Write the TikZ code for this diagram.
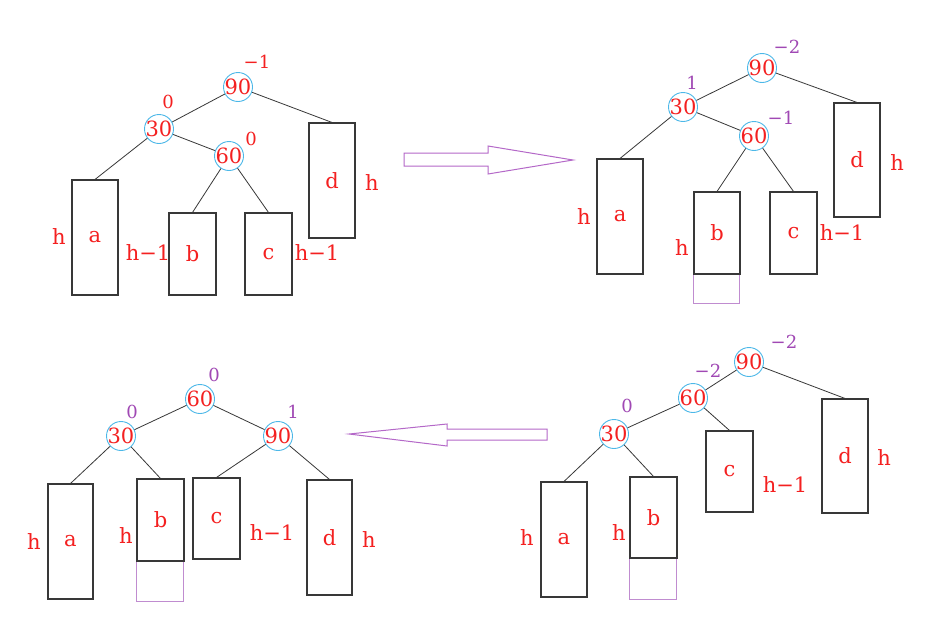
\documentclass[tikz,border=0pt]{standalone}
\usepackage{fontspec}
\setmainfont{DejaVu Serif}
\definecolor{txtred}{HTML}{F42020}
\definecolor{balpurple}{HTML}{A048B4}
\definecolor{ringblue}{HTML}{4CB8E8}
\definecolor{linegray}{HTML}{383838}
\definecolor{arrowpurple}{HTML}{B468C8}
\definecolor{extpurple}{HTML}{C08CD0}
\begin{document}
\begin{tikzpicture}[x=1pt,y=-1pt,
  key/.style={circle,draw=ringblue,line width=0.9pt,minimum size=29pt,inner sep=0pt,
    text=txtred,font=\fontsize{21}{21}\selectfont},
  subtree/.style={rectangle,draw=linegray,line width=1.1pt,inner sep=0pt,
    text=txtred,font=\fontsize{21}{21}\selectfont},
  htext/.style={text=txtred,inner sep=0pt,font=\fontsize{21}{21}\selectfont},
  balred/.style={text=txtred,inner sep=0pt,font=\fontsize{18}{18}\selectfont},
  balpur/.style={text=balpurple,inner sep=0pt,font=\fontsize{18}{18}\selectfont},
  edge/.style={draw=linegray,line width=0.8pt},
  extbox/.style={draw=extpurple,line width=1pt},
  bottomline/.style={draw=linegray,line width=1.3pt},
  bigarrow/.style={draw=arrowpurple,line width=1pt,line join=miter}]
\useasboundingbox (0,0) rectangle (933,616);
\fill[white] (0,0) rectangle (933,616);

% ---------- Panel 1 (top left) ----------
\node[key] (p1n90) at (238,87) {\makebox[0pt]{90}};
\node[key] (p1n30) at (159,129) {\makebox[0pt]{30}};
\node[key] (p1n60) at (229,156) {\makebox[0pt]{60}};
\node[balred] (p1b90) at (257,62) {−1};
\node[balred] (p1b30) at (168,102) {0};
\node[balred] (p1b60) at (251,139) {0};
\node[subtree,minimum width=46pt,minimum height=115pt] (p1a) at (95,237.5) {a};
\node[subtree,minimum width=47pt,minimum height=82pt] (p1b) at (192.5,254) {b};
\node[subtree,minimum width=47pt,minimum height=82pt] (p1c) at (268.5,254) {c};
\node[subtree,minimum width=46pt,minimum height=115pt] (p1d) at (332,180.5) {d};
\node[htext] (p1ha) at (59,237) {h};
\node[htext] (p1hb) at (148,253) {h−1};
\node[htext] (p1hc) at (317,253) {h−1};
\node[htext] (p1hd) at (372,183) {h};
\draw[edge] (p1n90) -- (p1n30);
\draw[edge] (p1n90) -- (p1d.north);
\draw[edge] (p1n30) -- (p1a.north);
\draw[edge] (p1n30) -- (p1n60);
\draw[edge] (p1n60) -- (p1b.north);
\draw[edge] (p1n60) -- (p1c.north);

% ---------- Panel 2 (top right) ----------
\node[key] (p2n90) at (762,68) {\makebox[0pt]{90}};
\node[key] (p2n30) at (683,107) {\makebox[0pt]{30}};
\node[key] (p2n60) at (754,136) {\makebox[0pt]{60}};
\node[balpur] (p2b90) at (787,47) {−2};
\node[balpur] (p2b30) at (692,83) {1};
\node[balpur] (p2b60) at (781,118) {−1};
\node[subtree,minimum width=46pt,minimum height=115pt] (p2a) at (620,216.5) {a};
\node[subtree,minimum width=46pt,minimum height=82pt] (p2b) at (717,233) {b};
\node[subtree,minimum width=47pt,minimum height=82pt] (p2c) at (793.5,233) {c};
\node[subtree,minimum width=46pt,minimum height=114pt] (p2d) at (857,160) {d};
\draw[extbox] (p2b.south west) rectangle ++(46,29);
\draw[bottomline] (p2b.south west) -- (p2b.south east);
\node[htext] (p2ha) at (584,217) {h};
\node[htext] (p2hb) at (682,248) {h};
\node[htext] (p2hc) at (842,233) {h−1};
\node[htext] (p2hd) at (897,163) {h};
\draw[edge] (p2n90) -- (p2n30);
\draw[edge] (p2n90) -- (p2d.north);
\draw[edge] (p2n30) -- (p2a.north);
\draw[edge] (p2n30) -- (p2n60);
\draw[edge] (p2n60) -- (p2b.north);
\draw[edge] (p2n60) -- (p2c.north);

% ---------- Panel 3 (bottom left) ----------
\node[key] (p3n60) at (200,399) {\makebox[0pt]{60}};
\node[key] (p3n30) at (121,436) {\makebox[0pt]{30}};
\node[key] (p3n90) at (278,436) {\makebox[0pt]{90}};
\node[balpur] (p3b60) at (214,375) {0};
\node[balpur] (p3b30) at (132,412) {0};
\node[balpur] (p3b90) at (293,412) {1};
\node[subtree,minimum width=45pt,minimum height=115pt] (p3a) at (70.5,541.5) {a};
\node[subtree,minimum width=47pt,minimum height=82pt] (p3b) at (160.5,520) {b};
\node[subtree,minimum width=47pt,minimum height=81pt] (p3c) at (216.5,518.5) {c};
\node[subtree,minimum width=45pt,minimum height=115pt] (p3d) at (329.5,537.5) {d};
\draw[extbox] (p3b.south west) rectangle ++(47,40);
\draw[bottomline] (p3b.south west) -- (p3b.south east);
\node[htext] (p3ha) at (34,542) {h};
\node[htext] (p3hb) at (126,536) {h};
\node[htext] (p3hc) at (272,533) {h−1};
\node[htext] (p3hd) at (369,540) {h};
\draw[edge] (p3n60) -- (p3n30);
\draw[edge] (p3n60) -- (p3n90);
\draw[edge] (p3n30) -- (p3a.north);
\draw[edge] (p3n30) -- (p3b.north);
\draw[edge] (p3n90) -- (p3c.north);
\draw[edge] (p3n90) -- (p3d.north);

% ---------- Panel 4 (bottom right) ----------
\node[key] (p4n90) at (749,362) {\makebox[0pt]{90}};
\node[key] (p4n60) at (693,398) {\makebox[0pt]{60}};
\node[key] (p4n30) at (614,434) {\makebox[0pt]{30}};
\node[balpur] (p4b90) at (784,342) {−2};
\node[balpur] (p4b60) at (708,371) {−2};
\node[balpur] (p4b30) at (627,406) {0};
\node[subtree,minimum width=46pt,minimum height=115pt] (p4a) at (564,539.5) {a};
\node[subtree,minimum width=47pt,minimum height=81pt] (p4b) at (653.5,517.5) {b};
\node[subtree,minimum width=47pt,minimum height=81pt] (p4c) at (729.5,471.5) {c};
\node[subtree,minimum width=46pt,minimum height=114pt] (p4d) at (845,456) {d};
\draw[extbox] (p4b.south west) rectangle ++(47,41);
\draw[bottomline] (p4b.south west) -- (p4b.south east);
\node[htext] (p4ha) at (527,538) {h};
\node[htext] (p4hb) at (619,533) {h};
\node[htext] (p4hc) at (785,485) {h−1};
\node[htext] (p4hd) at (884,458) {h};
\draw[edge] (p4n90) -- (p4n60);
\draw[edge] (p4n60) -- (p4n30);
\draw[edge] (p4n90) -- (p4d.north);
\draw[edge] (p4n60) -- (p4c.north);
\draw[edge] (p4n30) -- (p4a.north);
\draw[edge] (p4n30) -- (p4b.north);

% ---------- Big hollow arrows ----------
\draw[bigarrow] (404,153) -- (488,153) -- (488,146) -- (573,160) -- (488,174) -- (488,166) -- (404,166) -- cycle;
\draw[bigarrow] (547,429) -- (447,429) -- (447,424) -- (349,434) -- (447,446) -- (447,440) -- (547,440) -- cycle;
\end{tikzpicture}
\end{document}
